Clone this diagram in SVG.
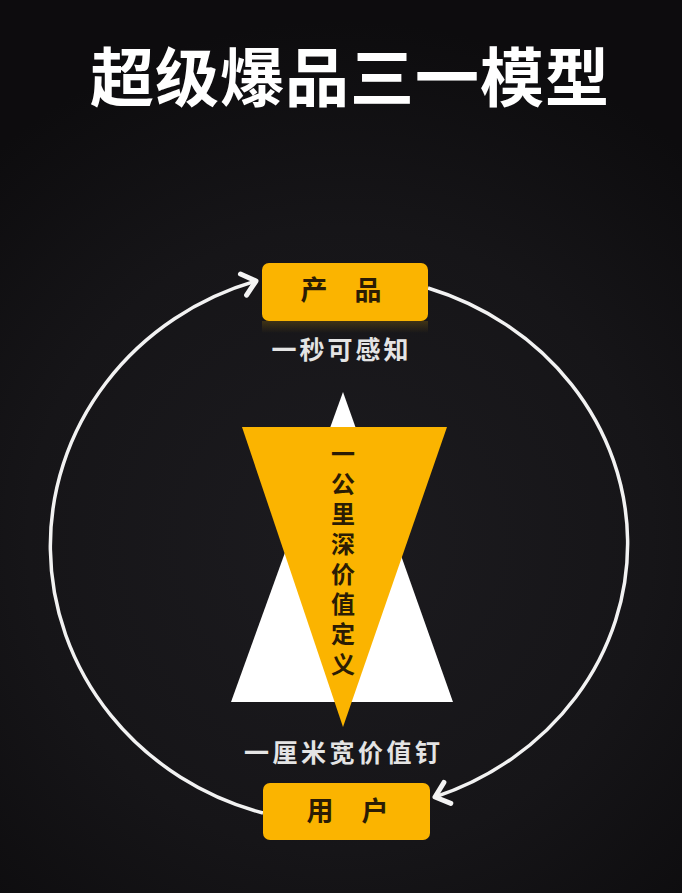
<svg xmlns="http://www.w3.org/2000/svg" width="682" height="893" viewBox="0 0 682 893">
  <defs>
    <radialGradient id="bg" cx="340" cy="540" r="520" gradientUnits="userSpaceOnUse">
      <stop offset="0" stop-color="#1c1b1f"/>
      <stop offset="0.6" stop-color="#161518"/>
      <stop offset="1" stop-color="#0d0c0e"/>
    </radialGradient>
    <linearGradient id="refl" x1="0" y1="0" x2="0" y2="1">
      <stop offset="0" stop-color="#f7b500" stop-opacity="0.18"/>
      <stop offset="1" stop-color="#f7b500" stop-opacity="0"/>
    </linearGradient>
    <marker id="chev" markerUnits="userSpaceOnUse" markerWidth="40" markerHeight="40" viewBox="-20 -20 40 40" refX="0" refY="0" orient="auto">
      <path d="M -13 -11 L 0 0 L -13 11" fill="none" stroke="#f4f4f4" stroke-width="5" stroke-linecap="round" stroke-linejoin="round"/>
    </marker>
    <style>
      .title { font-family: "Noto Sans CJK SC", "Noto Sans", sans-serif; font-weight: 700; font-size: 64px; fill: #ffffff; }
      .box { fill: #fbb400; }
      .boxtxt { font-family: "Noto Sans CJK SC", "Noto Sans", sans-serif; font-weight: 700; font-size: 27px; fill: #2b1c04; text-anchor: middle; }
      .lbl { font-family: "Noto Sans CJK SC", "Noto Sans", sans-serif; font-weight: 700; font-size: 25px; fill: #e4e4e4; text-anchor: middle; }
      .vtxt { font-family: "Noto Sans CJK SC", "Noto Sans", sans-serif; font-weight: 700; font-size: 24px; fill: #2b1c04; text-anchor: middle; }
      .conn { fill: none; stroke: #f2f2f2; stroke-width: 3.5; }
    </style>
  </defs>

  <rect x="0" y="0" width="682" height="893" fill="url(#bg)"/>

  <text id="title" class="title" x="350" y="101" text-anchor="middle" letter-spacing="1">超级爆品三一模型</text>

  <g id="connectors">
    <path class="conn" d="M 263 813 A 290 277 0 0 1 256 281" marker-end="url(#chev)"/>
    <path class="conn" d="M 428 288 A 290 269 0 0 1 435 797" marker-end="url(#chev)"/>
  </g>

  <g id="pyramid">
    <polygon points="343,392 453,702 231,702" fill="#ffffff"/>
    <polygon points="242,427 447,427 343,727" fill="#fbb400"/>
    <text class="vtxt" x="343 343 343 343 343 343 343 343" y="463 493 523 553 583 613 643 673">一公里深价值定义</text>
  </g>

  <g id="node-product">
    <rect x="262" y="321" width="166" height="12" fill="url(#refl)"/>
    <rect class="box" x="262" y="263" width="166" height="58" rx="7"/>
    <text class="boxtxt" x="314" y="300">产</text>
    <text class="boxtxt" x="368" y="300">品</text>
  </g>

  <text id="label-top" class="lbl" x="340" y="359" letter-spacing="3" dx="1.5">一秒可感知</text>
  <text id="label-bottom" class="lbl" x="342" y="762" letter-spacing="3.5" dx="1.75">一厘米宽价值钉</text>

  <g id="node-user">
    <rect class="box" x="263" y="783" width="167" height="57" rx="7"/>
    <text class="boxtxt" x="320" y="821">用</text>
    <text class="boxtxt" x="375" y="821">户</text>
  </g>
</svg>
